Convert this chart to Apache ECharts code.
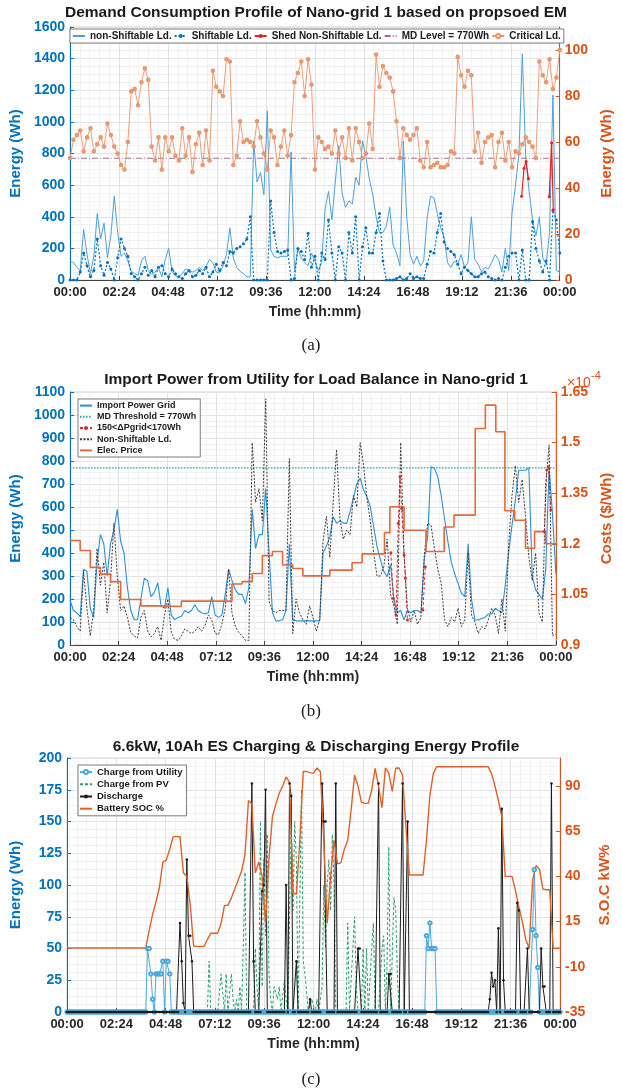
<!DOCTYPE html>
<html><head><meta charset="utf-8">
<script src="https://cdn.jsdelivr.net/npm/echarts@6/dist/echarts.min.js"></script>
<style>html,body{margin:0;padding:0;background:#fff}#c{width:622px;height:1091px}</style>
</head><body><div id="c"></div><script>
// ---------- DATA ----------
// time axis: minutes from 00:00, tick every 144 min
const timeTicks = [0,144,288,432,576,720,864,1008,1152,1296,1440];
const STEP_A = 10;   // panels (a),(b) and SOC: 10-min samples
const STEP_C = 5;    // panel (c) charge/discharge: 5-min samples
const mdLevel = 770;

// (a) non-shiftable load (Wh), 10-min samples
const nonShiftA = [120,110,80,60,320,160,40,150,420,260,
 360,140,280,530,300,150,170,120,55,40,
 30,120,150,60,35,50,80,20,130,200,
 55,25,20,40,70,60,50,60,80,60,
 85,130,110,50,45,90,160,330,140,80,
 55,40,20,20,880,620,680,540,1070,190,
 150,140,150,150,150,810,50,200,140,110,
 90,170,120,60,110,450,560,380,620,850,
 550,460,500,480,650,600,880,780,640,540,
 400,300,300,340,460,220,170,90,880,400,
 160,100,150,90,120,390,530,520,420,330,
 270,110,80,120,100,160,80,110,400,130,
 100,50,80,70,110,160,130,50,200,60,
 430,600,800,1430,770,560,380,280,400,140,
 100,300,1170,60,50];
// (a) shiftable load (Wh)
const shiftA = [0,0,0,50,170,90,20,60,260,90,
 30,110,70,0,140,260,200,150,40,20,
 0,40,80,30,60,20,80,90,40,20,
 70,40,20,10,40,60,20,30,60,40,
 80,20,50,100,60,110,90,180,170,200,
 210,230,260,400,0,0,0,0,0,500,
 300,180,170,180,190,0,10,200,180,130,
 295,80,150,0,170,130,380,170,0,210,
 170,0,300,170,400,0,210,330,170,170,
 300,420,120,0,0,0,10,20,0,10,
 40,10,20,10,10,100,180,170,300,420,
 240,200,180,160,100,40,80,60,40,20,
 20,40,50,20,10,0,10,0,80,150,
 170,170,0,190,0,0,370,200,120,50,
 120,0,440,380,170];
// (a) shed non-shiftable load: [minute, Wh], '-' = gap
const shedA = [[1328,530],[1335,706],[1341,750],[1348,640],[1380,'-'],[1409,527],[1416,868],[1421,445]];
// (a) critical load (right axis, Wh)
const criticalA = [53,61,63,65,56,62,66,56,59,62,
 58,68,63,58,55,50,48,60,82,83,
 76,86,92,87,58,52,62,48,62,56,
 62,54,52,66,54,62,47,59,64,50,
 65,52,91,84,82,80,96,95,50,54,
 69,60,61,60,58,69,62,55,48,65,
 62,50,58,65,54,63,86,90,95,80,
 96,85,48,62,60,57,58,55,65,55,
 62,53,66,52,66,60,53,55,68,57,
 98,84,93,90,88,82,69,53,66,63,
 61,63,66,52,49,60,49,50,51,49,
 49,50,56,55,97,89,84,91,89,56,
 64,51,60,62,63,49,60,64,52,60,
 49,56,55,59,62,60,58,53,95,89,
 86,96,83,88,100];

// (b) import power from grid (Wh)
const importB = [196,150,140,123,330,320,160,120,360,480,
 440,300,440,500,590,450,400,250,150,110,
 110,200,290,280,210,230,270,170,160,250,
 130,110,120,125,150,140,150,175,150,140,
 135,140,210,130,120,130,220,330,280,240,
 220,220,180,250,590,420,480,480,680,400,
 140,105,105,110,150,440,110,105,105,105,
 105,105,105,105,105,400,430,470,558,529,
 540,530,529,580,640,700,725,674,645,601,
 514,428,370,320,297,350,200,140,150,109,
 150,140,150,150,140,370,471,775,768,732,
 650,550,450,360,310,268,225,210,440,200,
 109,109,115,120,135,135,160,150,140,260,
 400,520,630,760,760,760,770,300,240,220,
 200,330,770,570,310];
// (b) non-shiftable load (Wh)
const nonShiftB = [120,110,80,60,320,160,40,150,420,260,
 360,140,280,530,300,150,170,120,55,40,
 30,120,150,60,35,50,80,20,130,200,
 55,25,20,40,70,60,50,60,80,60,
 85,130,110,50,45,90,160,330,140,80,
 55,40,20,20,880,620,680,540,1070,190,
 150,140,150,150,150,810,50,200,140,110,
 90,170,120,60,110,450,560,380,620,850,
 550,460,500,480,650,600,880,780,640,540,
 400,300,300,340,460,220,170,90,880,400,
 160,100,150,90,120,390,530,520,420,330,
 270,110,80,120,100,160,80,110,400,130,
 100,50,80,70,110,160,130,50,200,60,
 430,650,780,620,720,560,380,280,400,140,
 100,700,870,40,50];
// (b) 150<dPgrid<170Wh points: [minute, Wh]
const deltaB = [[951,401],[958,203],[966,130],[973,529],[978,732],[983,594],[990,391],[994,290],[1000,109],[1020,'-'],
 [1046,152],[1053,340],[1200,'-'],[1406,493],[1413,761],[1418,775],[1425,587]];
// (b) electricity price (x1e-4 $/Wh): [minute from, price]
const priceB = [[0,1.21],[30,1.18],[60,1.13],[90,1.11],[120,1.088],[150,1.035],[210,1.016],[250,1.014],[330,1.03],
 [480,1.081],[510,1.088],[540,1.112],[570,1.165],[600,1.177],[630,1.137],[660,1.127],[690,1.105],[770,1.122],
 [836,1.144],[866,1.17],[932,1.233],[948,1.31],[990,1.24],[1055,1.177],[1109,1.25],[1138,1.285],[1201,1.542],
 [1231,1.611],[1262,1.532],[1289,1.298],[1318,1.27],[1350,1.187],[1377,1.236],[1409,1.2],[1440,1.2]];

// (c) 5-min samples, one row per hour
const utilityC = [
 0,0,0,0,0,0,0,0,0,0,0,0, 0,0,0,0,0,0,0,0,0,0,0,0, 0,0,0,0,0,0,0,0,0,0,0,0, 0,0,0,0,0,0,0,0,0,0,0,50,
 50,30,10,0,30,30,30,30,40,0,40,40, 30,0,0,0,0,0,0,0,0,0,0,0, 0,0,0,0,0,0,0,0,0,0,0,0, 0,0,0,0,0,0,0,0,0,0,0,0,
 0,0,0,0,0,0,0,0,0,0,0,0, 0,0,0,0,0,0,0,0,0,0,0,0, 0,0,0,0,0,0,0,0,0,0,0,0, 0,0,0,0,0,0,0,0,0,0,0,0,
 0,0,0,0,0,0,0,0,0,0,0,0, 0,0,0,0,0,0,0,0,0,0,0,0, 0,0,0,0,0,0,0,0,0,0,0,0, 0,0,0,0,0,0,0,0,0,0,0,0,
 0,0,0,0,0,0,0,0,0,0,0,0, 0,0,0,0,0,0,60,50,70,50,50,50, 0,0,0,0,0,0,0,0,0,0,0,0, 0,0,0,0,0,0,0,0,0,0,0,0,
 0,0,0,0,0,0,0,0,0,0,0,0, 0,0,0,0,0,0,0,0,0,0,0,0, 0,0,0,0,0,0,0,0,65,112,60,35, 0,0,0,0,0,0,0,0,0,0,0,0, 0];
const pvC = [
 0,0,0,0,0,0,0,0,0,0,0,0, 0,0,0,0,0,0,0,0,0,0,0,0, 0,0,0,0,0,0,0,0,0,0,0,0, 0,0,0,0,0,0,0,0,0,0,0,0,
 0,0,0,0,0,0,0,0,0,0,0,0, 0,0,0,0,0,0,0,0,0,0,0,0, 0,0,0,0,0,0,0,0,0,0,0,40, 0,0,0,0,0,0,30,30,0,30,0,0,
 30,10,0,10,0,20,0,0,110,0,0,0, 0,0,50,20,0,150,20,120,60,140,30,10, 0,20,20,10,20,0,0,25,10,0,0,150, 80,150,120,0,0,175,40,30,30,0,0,10,
 10,0,10,0,0,20,100,50,100,120,80,140, 100,0,0,0,0,0,0,0,70,0,0,50, 75,20,0,0,0,50,0,50,0,0,50,70, 0,0,0,0,50,60,0,40,130,0,0,90,
 80,30,0,0,0,0,0,0,0,0,0,0, 0,0,0,0,0,0,0,0,0,0,0,0, 0,0,0,0,0,0,0,0,0,0,0,0, 0,0,0,0,0,0,0,0,0,0,0,0,
 0,0,0,0,0,0,0,0,0,0,0,0, 0,0,0,0,0,0,0,0,0,0,0,0, 0,0,0,0,0,0,0,0,0,0,0,0, 0,0,0,0,0,0,0,0,0,0,0,0, 0];
const dischargeC = [
 0,0,0,0,0,0,0,0,0,0,0,0, 0,0,0,0,0,0,0,0,0,0,0,0, 0,0,0,0,0,0,0,0,0,0,0,0, 0,0,0,0,0,0,0,0,0,0,0,0,
 0,0,0,0,0,0,0,0,0,0,0,0, 0,0,0,0,0,0,70,40,7,0,120,60, 60,40,0,0,0,0,0,0,0,0,0,0, 0,0,0,0,0,0,0,0,0,0,0,0,
 0,0,0,0,0,0,0,0,0,0,0,0, 180,40,0,0,0,0,95,100,175,0,0,0, 0,0,0,0,0,0,0,0,100,0,180,170, 0,0,40,0,0,0,0,0,0,0,10,0,
 0,0,0,0,0,180,150,150,0,0,0,0, 0,180,0,0,0,0,0,0,0,0,0,0, 0,0,50,50,0,0,0,0,0,0,0,0, 0,0,180,0,0,0,0,0,30,30,0,0,
 0,0,0,0,180,0,0,150,0,0,0,0, 0,0,0,0,0,0,0,0,0,0,0,0, 0,0,0,0,0,0,0,0,0,0,0,0, 0,0,0,0,0,0,0,0,0,0,0,0,
 0,0,0,0,0,0,0,10,31,20,25,0, 66,0,160,25,0,0,0,0,0,0,0,86, 80,0,0,0,0,50,0,0,0,0,0,0, 0,50,20,20,0,0,0,180,0,0,0,0, 0];
// (c) battery SOC (right axis), 10-min samples
const socC = [0.4,0.4,0.4,0.4,0.4,0.4,0.4,0.4,0.4,0.4,
 0.4,0.4,0.4,0.4,0.4,0.4,0.4,0.4,0.4,0.4,
 0.4,0.4,0.4,0.4,10,19,26,34,48,49,
 55,62,62,62,42,40,24,1.3,1.3,1.3,
 1.3,5,8.6,8.6,8.6,14,24,24,28,33,
 38,43,52,82,80,42,48,40,14,50,
 73,80,86,90,95,92,31,30,60,98,
 98,97.4,97,100,98,60,14,40,60,47,
 47.5,55,60,77,96,90,81,80.4,80.4,87.8,
 99.8,90,78,100,97,87,99.8,100,96,67.5,
 40.8,40.8,40.8,40.8,40.8,60,85,97,100.7,100.7,
 100.7,100.7,100.7,100.7,100.7,100.7,100.7,100.7,100.7,100.7,
 100.7,100.7,100.7,100.7,97,90,82,73,40,40,
 40,32,23,15,5,0.3,38,46,44,33,
 32.6,32.6,0.3,0.3,0.3];

// axis tick values
const ticksA_L = [0,1600,200], ticksA_R = [0,20,40,60,80,100];
const ticksB_L = [0,1100,100], ticksB_R = [0.9,1.05,1.2,1.35,1.5,1.65];
const ticksC_L = [0,200,25],   ticksC_R = [-35,-10,15,40,65,90];

// ---------- CHART ----------
const FONT = '"Liberation Sans", Arial, Helvetica, sans-serif';
const BLUE = '#0072BD', ORANGE = '#D95319';
const xy = (arr, step) => arr.map((v, i) => [i * step, v]);
const hhmm = v => { const m = Math.round(v) % 1440; return String(Math.floor(m/60)).padStart(2,'0') + ':' + String(m%60).padStart(2,'0'); };
const plain = v => String(v);

const gridDefs = [
  {left:67, right:62, top:27, height:253},
  {left:67, right:62, top:392, height:253},
  {left:67, right:62, top:758, height:254}
];
const xAxes = gridDefs.map((g, i) => ({
  type:'value', gridIndex:i, min:0, max:1440, interval:144,
  name:'Time (hh:mm)', nameLocation:'middle', nameGap:25,
  nameTextStyle:{fontFamily:FONT, fontWeight:'bold', fontSize:14, color:'#262626'},
  axisLine:{show:true, onZero:false, lineStyle:{color:'#404040', width:1}},
  axisTick:{show:true, inside:true, length:4, lineStyle:{color:'#404040'}},
  axisLabel:{formatter:hhmm, fontFamily:FONT, fontWeight:'bold', fontSize:13, color:'#262626', margin:6},
  splitLine:{show:true, lineStyle:{color:'#e2e2e2', width:1}},
  minorTick:{show:false, splitNumber:5},
  minorSplitLine:{show:true, lineStyle:{color:'#f2f2f2', width:1}}
}));
function leftAxis(i, t, name){
  return {type:'value', gridIndex:i, position:'left', min:t[0], max:t[1], interval:t[2],
    name:name, nameLocation:'middle', nameGap:44,
    nameTextStyle:{fontFamily:FONT, fontWeight:'bold', fontSize:15, color:BLUE},
    axisLine:{show:true, lineStyle:{color:BLUE, width:1}},
    axisTick:{show:true, inside:true, length:4, lineStyle:{color:BLUE}},
    axisLabel:{formatter:plain, fontFamily:FONT, fontWeight:'bold', fontSize:14, color:BLUE, margin:5},
    splitLine:{show:true, lineStyle:{color:'#e2e2e2', width:1}},
    minorTick:{show:false, splitNumber:4},
    minorSplitLine:{show:true, lineStyle:{color:'#f2f2f2', width:1}}};
}
function rightAxis(i, min, max, vals, name){
  return {type:'value', gridIndex:i, position:'right', min:min, max:max,
    name:name, nameLocation:'middle', nameGap:37, nameRotate:90,
    nameTextStyle:{fontFamily:FONT, fontWeight:'bold', fontSize:15, color:ORANGE},
    axisLine:{show:true, lineStyle:{color:ORANGE, width:1}},
    axisTick:{show:true, inside:true, length:4, lineStyle:{color:ORANGE}, customValues:vals},
    axisLabel:{formatter:plain, fontFamily:FONT, fontWeight:'bold', fontSize:14, color:ORANGE, margin:5, customValues:vals},
    splitLine:{show:false}};
}
const yAxes = [
  leftAxis(0, ticksA_L, 'Energy (Wh)'),
  rightAxis(0, 0, 110, ticksA_R, 'Energy (Wh)'),
  leftAxis(1, ticksB_L, 'Energy (Wh)'),
  rightAxis(1, 0.9, 1.65, ticksB_R, 'Costs ($/Wh)'),
  leftAxis(2, ticksC_L, 'Energy (Wh)'),
  rightAxis(2, -35, 105.5, ticksC_R, 'S.O.C kW%')
];

const noMark = {itemStyle:{opacity:0}};
const legendBase = {backgroundColor:'#fff', borderColor:'#5a5a5a', borderWidth:0.8, itemWidth:12, itemHeight:5,
  textStyle:{fontFamily:FONT, fontWeight:'bold', color:'#1a1a1a'}};
const legends = [
  Object.assign({}, legendBase, {orient:'horizontal', left:70, top:29, padding:[2,3,2,2], itemGap:2,
    textStyle:Object.assign({}, legendBase.textStyle, {fontSize:10}),
    data:[Object.assign({name:'non-Shiftable Ld.'}, noMark),'Shiftable Ld.','Shed Non-Shiftable Ld.',
          Object.assign({name:'MD Level = 770Wh'}, noMark),'Critical Ld.']}),
  Object.assign({}, legendBase, {orient:'vertical', left:78, top:399, padding:[1,4,1,1], itemGap:0,
    textStyle:Object.assign({}, legendBase.textStyle, {fontSize:9, lineHeight:11.2}),
    data:[Object.assign({name:'Import Power Grid'}, noMark), Object.assign({name:'MD Threshold = 770Wh'}, noMark),
          '150<ΔPgrid<170Wh', Object.assign({name:'Non-Shiftable Ld.'}, noMark), Object.assign({name:'Elec. Price'}, noMark)]}),
  Object.assign({}, legendBase, {orient:'vertical', left:78, top:765, padding:[1,4,1,1], itemGap:0,
    textStyle:Object.assign({}, legendBase.textStyle, {fontSize:9.5, lineHeight:12.2}),
    data:['Charge from Utility', Object.assign({name:'Charge from PV'}, noMark),'Discharge', Object.assign({name:'Battery SOC %'}, noMark)]})
];

const L = (o) => Object.assign({type:'line', animation:false, showSymbol:false, symbol:'none', connectNulls:false}, o);
const series = [
  // (a)
  L({name:'non-Shiftable Ld.', xAxisIndex:0, yAxisIndex:0, data:xy(nonShiftA, STEP_A),
     lineStyle:{color:'#4d9fd8', width:1}, itemStyle:{color:'#4d9fd8'}}),
  L({name:'Shiftable Ld.', xAxisIndex:0, yAxisIndex:0, data:xy(shiftA, STEP_A), showSymbol:true, symbol:'circle', symbolSize:3,
     lineStyle:{color:BLUE, width:1.2, type:[2,2]}, itemStyle:{color:BLUE}}),
  L({name:'Shed Non-Shiftable Ld.', xAxisIndex:0, yAxisIndex:0, data:shedA, showSymbol:true, symbol:'circle', symbolSize:3,
     lineStyle:{color:'#ee1c1c', width:1.2}, itemStyle:{color:'#ee1c1c'}}),
  L({name:'MD Level = 770Wh', xAxisIndex:0, yAxisIndex:0, data:[[0,mdLevel],[1440,mdLevel]],
     lineStyle:{color:'#a8689c', width:1, type:[6,2,1,2]}, itemStyle:{color:'#a8689c'}}),
  L({name:'Critical Ld.', xAxisIndex:0, yAxisIndex:1, data:xy(criticalA, STEP_A), showSymbol:true, symbol:'emptyCircle', symbolSize:2.6,
     lineStyle:{color:'#e8946c', width:0.9}, itemStyle:{color:'#e8946c', borderWidth:0.6}}),
  // (b)
  L({name:'Import Power Grid', xAxisIndex:1, yAxisIndex:2, data:xy(importB, STEP_A),
     lineStyle:{color:'#2a8fd4', width:1.1}, itemStyle:{color:'#2a8fd4'}}),
  L({name:'MD Threshold = 770Wh', xAxisIndex:1, yAxisIndex:2, data:[[0,mdLevel],[1440,mdLevel]],
     lineStyle:{color:'#2aa3a8', width:1.4, type:[1.5,1.5]}, itemStyle:{color:'#2aa3a8'}}),
  L({name:'150<ΔPgrid<170Wh', xAxisIndex:1, yAxisIndex:2, data:deltaB, showSymbol:true, symbol:'circle', symbolSize:3,
     lineStyle:{color:'#e32a2a', width:1, type:[3,2]}, itemStyle:{color:'#e32a2a'}}),
  L({name:'Non-Shiftable Ld.', xAxisIndex:1, yAxisIndex:2, data:xy(nonShiftB, STEP_A),
     lineStyle:{color:'#3a3a3a', width:1, type:[2,1.5]}, itemStyle:{color:'#3a3a3a'}}),
  L({name:'Elec. Price', xAxisIndex:1, yAxisIndex:3, data:priceB, step:'end',
     lineStyle:{color:'#e2693a', width:1.6}, itemStyle:{color:'#e2693a'}}),
  // (c)
  L({name:'Charge from Utility', xAxisIndex:2, yAxisIndex:4, data:xy(utilityC, STEP_C), showSymbol:true, symbol:'emptyCircle', symbolSize:3.5,
     lineStyle:{color:'#4aa8dc', width:1}, itemStyle:{color:'#4aa8dc', borderWidth:0.8}}),
  L({name:'Charge from PV', xAxisIndex:2, yAxisIndex:4, data:xy(pvC, STEP_C),
     lineStyle:{color:'#2e9e6e', width:1, type:[3,2]}, itemStyle:{color:'#2e9e6e'}}),
  L({name:'Discharge', xAxisIndex:2, yAxisIndex:4, data:xy(dischargeC, STEP_C), showSymbol:true, symbol:'circle', symbolSize:2.5,
     lineStyle:{color:'#1a1a1a', width:1}, itemStyle:{color:'#1a1a1a'}}),
  L({name:'Battery SOC %', xAxisIndex:2, yAxisIndex:5, data:xy(socC, STEP_A),
     lineStyle:{color:'#e0602a', width:1.4}, itemStyle:{color:'#e0602a'}})
];

const titleStyle = {fontFamily:FONT, fontWeight:'bold', fontSize:15.5, color:'#1a1a1a'};
const capStyle = {fontFamily:'"Liberation Serif", "DejaVu Serif", serif', fontWeight:'normal', fontSize:17, color:'#1a1a1a'};
const titles = [
  {text:'Demand Consumption Profile of Nano-grid 1 based on propsoed EM', left:316, top:5, textAlign:'center', textStyle:titleStyle, padding:0},
  {text:'Import Power from Utility for Load Balance in Nano-grid 1', left:316, top:372, textAlign:'center', textStyle:titleStyle, padding:0},
  {text:'6.6kW, 10Ah ES Charging & Discharging Energy Profile', left:316, top:739, textAlign:'center', textStyle:titleStyle, padding:0},
  {text:'(a)', left:311, top:337, textAlign:'center', textStyle:capStyle, padding:0},
  {text:'(b)', left:311, top:703, textAlign:'center', textStyle:capStyle, padding:0},
  {text:'(c)', left:311, top:1071, textAlign:'center', textStyle:capStyle, padding:0}
];

const chart = echarts.init(document.getElementById('c'), null, {renderer:'canvas'});
chart.setOption({
  backgroundColor:'#fff',
  animation:false,
  title:titles,
  legend:legends,
  grid:gridDefs.map(g => Object.assign({show:true, borderColor:'#d0d0d0', borderWidth:1, backgroundColor:'transparent'}, g)),
  xAxis:xAxes,
  yAxis:yAxes,
  series:series,
  graphic:[
    {type:'text', left:567, top:376, style:{text:'×10', fontFamily:FONT, fontSize:14, fill:ORANGE}},
    {type:'text', left:591, top:370, style:{text:'-4', fontFamily:FONT, fontSize:11, fill:ORANGE}}
  ]
});
</script></body></html>
